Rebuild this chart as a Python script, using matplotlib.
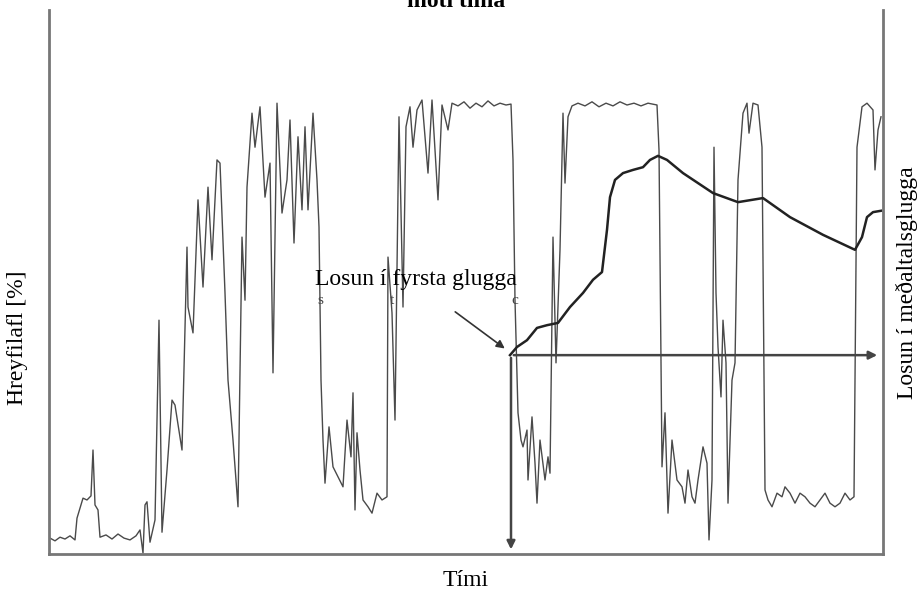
import matplotlib
matplotlib.use("Agg")
import matplotlib.pyplot as plt

plt.rcParams['font.family'] = ['Liberation Serif', 'DejaVu Serif']

# Engine power trace [%] against time
power_t = [1, 6, 11, 16, 21, 26, 28, 34, 38, 42, 44, 46, 49, 51, 57, 63, 69, 75, 81, 87,
           91, 94, 96, 98, 101, 106, 110, 113, 118, 123, 126, 133, 138, 139, 144, 149, 154, 159, 163, 168,
           171, 176, 179, 184, 189, 193, 196, 198, 203, 206, 211, 216, 221, 224, 228, 233, 238, 241, 245, 249,
           253, 256, 259, 264, 268, 270, 272, 274, 276, 280, 284, 289, 294, 298, 302, 304, 306, 308, 311, 314,
           319, 323, 328, 333, 338, 339, 343, 346, 350, 354, 357, 361, 364, 368, 373, 379, 383, 389, 393, 399,
           403, 409, 415, 421, 427, 433, 439, 445, 451, 457, 462, 464, 466, 469, 472, 474, 478, 479, 483, 486,
           488, 491, 496, 499, 501, 504, 507, 511, 514, 516, 519, 523, 529, 536, 543, 550, 557, 564, 571, 578,
           585, 592, 599, 608, 610, 613, 616, 619, 623, 628, 633, 636, 639, 643, 646, 649, 654, 658, 660, 663,
           665, 667, 669, 672, 674, 677, 679, 683, 686, 689, 694, 698, 700, 704, 709, 713, 716, 719, 723, 728,
           733, 736, 741, 746, 751, 756, 761, 766, 771, 776, 781, 786, 791, 796, 801, 805, 808, 813, 818, 824,
           826, 829, 832]
power = [3.5, 2.9, 3.7, 3.3, 4.0, 3.1, 7.9, 12.3, 11.9, 12.8, 22.9, 10.8, 9.7, 3.7, 4.2, 3.3, 4.4, 3.5, 3.1, 4.0,
         5.3, 0.2, 10.8, 11.5, 2.6, 7.5, 51.5, 4.8, 18.5, 33.9, 32.8, 22.9, 67.6, 54.4, 48.7, 78.0, 58.8, 80.8, 64.8, 86.8,
         86.1, 57.5, 38.3, 25.1, 10.4, 69.8, 55.9, 80.8, 97.1, 89.6, 98.5, 78.6, 86.1, 39.9, 99.3, 75.1, 82.4, 95.6, 68.5, 91.9,
         75.8, 94.1, 75.8, 97.1, 82.4, 72.0, 38.3, 25.1, 15.6, 28.0, 19.2, 17.0, 14.8, 29.5, 21.4, 35.5, 9.7, 26.7, 18.5, 11.9,
         10.4, 9.0, 13.4, 11.9, 12.6, 65.4, 53.1, 29.5, 96.3, 54.4, 94.1, 98.5, 89.6, 97.8, 100.0, 83.9, 100.0, 78.0, 98.9, 93.4,
         99.3, 98.7, 99.6, 98.2, 99.3, 98.5, 99.8, 98.7, 99.3, 98.9, 99.1, 86.8, 55.9, 31.1, 25.1, 23.6, 27.3, 16.3, 30.2, 20.0,
         11.2, 25.1, 16.3, 21.4, 17.8, 69.8, 42.1, 67.0, 97.1, 81.7, 96.3, 98.7, 99.3, 98.7, 99.6, 98.5, 99.3, 98.7, 99.6, 98.9,
         99.3, 98.7, 99.3, 98.9, 89.0, 19.2, 31.1, 9.0, 25.1, 16.3, 14.8, 11.2, 18.5, 12.6, 11.2, 16.3, 23.6, 20.0, 3.1, 16.3,
         89.6, 57.5, 45.6, 34.6, 51.5, 42.1, 11.2, 38.3, 42.1, 82.4, 97.1, 99.3, 92.7, 99.3, 98.9, 89.6, 14.1, 11.9, 10.4, 13.4,
         12.6, 14.8, 13.4, 11.2, 13.4, 12.6, 11.2, 10.4, 11.9, 13.4, 11.2, 10.4, 11.2, 13.4, 11.9, 12.6, 89.6, 98.5, 99.3, 97.8,
         84.6, 93.4, 96.3]

# Emission in the moving averaging window (same plot units)
emis_t = [461, 468, 478, 488, 498, 509, 521, 534, 544, 553, 558, 561, 566, 574, 584, 594, 601, 609, 618, 634,
          664, 689, 714, 741, 774, 806, 813, 818, 824, 832]
emis = [43.8, 45.6, 47.1, 49.8, 50.4, 50.9, 54.4, 57.5, 60.4, 62.1, 71.4, 78.6, 82.4, 83.9, 84.6, 85.2, 86.8, 87.7, 86.8, 83.9,
        79.5, 77.5, 78.4, 74.2, 70.3, 67.0, 69.8, 74.2, 75.3, 75.6]

first_t, first_val = 462, 43.8
t_end = 831

fig = plt.figure(figsize=(9.22, 5.90), dpi=100)
ax = fig.add_axes([49 / 922, 36 / 590, 834 / 922, 544 / 590])
ax.set_xlim(0, 834)
ax.set_ylim(0, 544 / 4.54)

ax.plot(power_t, power, color='#2a2a2a', lw=1.0, alpha=0.85)
ax.plot(emis_t, emis, color='#222222', lw=1.8)

# arrows from the first window emission point
arrow_kw = dict(arrowstyle='-|>', color='#444444', lw=1.8, mutation_scale=12)
ax.annotate('', xy=(first_t, 0.4), xytext=(first_t, first_val), arrowprops=arrow_kw)
ax.annotate('', xy=(t_end, first_val), xytext=(first_t, first_val), arrowprops=arrow_kw)
ax.annotate('', xy=(458, 44.9), xytext=(404, 53.7),
            arrowprops=dict(arrowstyle='-|>', color='#333333', lw=1.2, mutation_scale=12))

ax.text(266, 59.3, 'Losun í fyrsta glugga', fontsize=17, va='baseline', ha='left')
# leftover glyph fragments under the label, as in the scan
for tx, ch in [(271, 's'), (343, 't'), (466, 'c')]:
    ax.text(tx, 55.0, ch, fontsize=11, ha='center', va='baseline', color='#444444')

for side in ['left', 'right', 'bottom']:
    ax.spines[side].set_color('#777777')
    ax.spines[side].set_linewidth(2)
ax.spines['top'].set_visible(False)
ax.set_xticks([])
ax.set_yticks([])

fig.text(18 / 922, 1 - 338 / 590, 'Hreyfilafl [%]', rotation=90, fontsize=17, ha='center', va='center')
fig.text(907 / 922, 1 - 283 / 590, 'Losun í meðaltalsglugga', rotation=90, fontsize=17, ha='center', va='center')
fig.text(466 / 922, 1 - 580 / 590, 'Tími', fontsize=17, ha='center', va='center')
# title is cropped at the top edge in the source figure
fig.text(456 / 922, 1 - 7 / 590, 'móti tíma', fontsize=17, fontweight='bold', ha='center', va='baseline')

fig.savefig('out.png', dpi=100)
